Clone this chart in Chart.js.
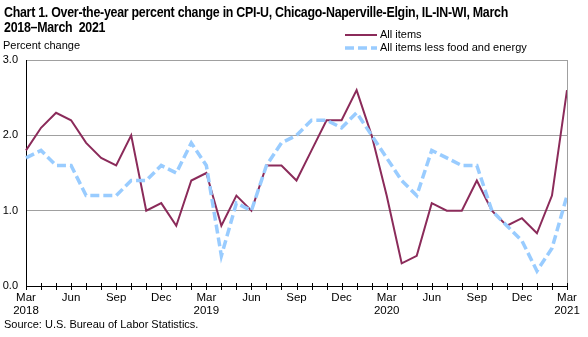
<!DOCTYPE html>
<html>
<head>
<meta charset="utf-8">
<script src="https://cdn.jsdelivr.net/npm/chart.js@4"></script>
<style>
  body { margin: 0; background: #fff; }
  #wrap { position: relative; width: 588px; height: 337px; font-family: 'Liberation Sans', Arial, sans-serif; color: #000; }
  #wrap canvas { position: absolute; left: 0; top: 0; }
  .title { position: absolute; left: 4px; top: 5px; font-size: 14px; font-weight: bold; line-height: 15px; white-space: nowrap; letter-spacing: -0.3px; transform-origin: 0 0; }
  .ylabel { position: absolute; left: 3px; top: 39px; font-size: 11px; }
  .source { position: absolute; left: 4px; top: 318px; font-size: 11px; }
</style>
</head>
<body>
<div id="wrap">
  <canvas id="cpiChart" width="588" height="337"></canvas>
  <div class="title" id="title">Chart 1. Over-the-year percent change in CPI-U, Chicago-Naperville-Elgin, IL-IN-WI, March<br>2018–March&nbsp; 2021</div>
  <div class="ylabel">Percent change</div>
  <div class="source">Source: U.S. Bureau of Labor Statistics.</div>
</div>
<script>
// Monthly months, Mar 2018 through Mar 2021
const months = ['Mar', 'Apr', 'May', 'Jun', 'Jul', 'Aug', 'Sep', 'Oct', 'Nov', 'Dec', 'Jan', 'Feb'];
const startYear = 2018;
const monthCount = 37;

// Over-the-year percent change
const allItems = [1.8, 2.1, 2.3, 2.2, 1.9, 1.7, 1.6, 2.0, 1.0, 1.1, 0.8, 1.4,
                  1.5, 0.8, 1.2, 1.0, 1.6, 1.6, 1.4, 1.8, 2.2, 2.2, 2.6, 2.0,
                  1.2, 0.3, 0.4, 1.1, 1.0, 1.0, 1.4, 1.0, 0.8, 0.9, 0.7, 1.2,
                  2.6];
const coreItems = [1.7, 1.8, 1.6, 1.6, 1.2, 1.2, 1.2, 1.4, 1.4, 1.6, 1.5, 1.9,
                   1.6, 0.4, 1.1, 1.0, 1.6, 1.9, 2.0, 2.2, 2.2, 2.1, 2.3, 2.0,
                   1.7, 1.4, 1.2, 1.8, 1.7, 1.6, 1.6, 1.0, 0.8, 0.6, 0.2, 0.5,
                   1.2];
const yTicks = [0, 1, 2, 3];

const seriesNames = ['All items', 'All items less food and energy'];
const maroon = '#8b2b5a';
const skyBlue = '#99ccff';
const fontFamily = "'Liberation Sans', Arial, sans-serif";

// keep the first title line inside 504px
const titleEl = document.getElementById('title');
const titleWidth = titleEl.getBoundingClientRect().width;
if (titleWidth > 504) titleEl.style.transform = 'scaleX(' + (504 / titleWidth) + ')';

const labels = [];
for (let i = 0; i < monthCount; i++) {
    const m = months[i % 12];
    const year = startYear + Math.floor(i / 12);
    if (i % 3 !== 0) labels.push('');
    else if (m === 'Mar') labels.push([m, String(year)]);
    else labels.push(m);
}

// Tick marks crossing the x axis, right frame line and the legend
const decorPlugin = {
    id: 'decor',
    afterDraw(chart) {
        const ctx = chart.ctx;
        const area = chart.chartArea;
        const x = chart.scales.x;
        ctx.save();
        ctx.strokeStyle = '#a0a0a0';
        ctx.lineWidth = 1;
        ctx.beginPath();
        ctx.moveTo(Math.round(area.right) + 0.5, area.top);
        ctx.lineTo(Math.round(area.right) + 0.5, area.bottom);
        ctx.stroke();

        ctx.strokeStyle = '#000';
        ctx.beginPath();
        for (let i = 0; i < monthCount; i++) {
            const px = Math.round(x.getPixelForValue(i)) + 0.5;
            ctx.moveTo(px, area.bottom - 3);
            ctx.lineTo(px, area.bottom + 4);
        }
        ctx.stroke();

        // legend
        const entries = [
            { text: seriesNames[0], color: maroon, width: 2, dash: [], y: 35 },
            { text: seriesNames[1], color: skyBlue, width: 3.5, dash: [9, 4], y: 48 }
        ];
        ctx.font = '11px ' + fontFamily;
        ctx.textBaseline = 'middle';
        entries.forEach(e => {
            ctx.strokeStyle = e.color;
            ctx.lineWidth = e.width;
            ctx.setLineDash(e.dash);
            ctx.beginPath();
            ctx.moveTo(345, e.y);
            ctx.lineTo(377, e.y);
            ctx.stroke();
            ctx.setLineDash([]);
            ctx.fillStyle = '#000';
            ctx.fillText(e.text, 380, e.y);
        });
        ctx.restore();
    }
};

new Chart(document.getElementById('cpiChart').getContext('2d'), {
    type: 'line',
    data: {
        labels: labels,
        datasets: [{
            label: seriesNames[0],
            data: allItems,
            borderColor: maroon,
            borderWidth: 2,
            pointRadius: 0,
            tension: 0,
            order: 1
        }, {
            label: seriesNames[1],
            data: coreItems,
            borderColor: skyBlue,
            borderWidth: 3.5,
            borderDash: [9, 4],
            pointRadius: 0,
            tension: 0,
            order: 0
        }]
    },
    options: {
        responsive: false,
        animation: false,
        layout: { padding: { top: 60, right: 21, left: 0, bottom: 0 } },
        plugins: {
            legend: { display: false },
            tooltip: { enabled: false }
        },
        scales: {
            x: {
                grid: { display: true, drawOnChartArea: false, drawTicks: false },
                border: { color: '#000', width: 1 },
                afterFit: scale => { scale.height = 51; },
                ticks: {
                    autoSkip: false,
                    maxRotation: 0,
                    padding: 6,
                    color: '#000',
                    font: { family: fontFamily, size: 11.5, lineHeight: 1.1 }
                }
            },
            y: {
                min: 0,
                max: 3,
                afterFit: scale => { scale.width = 26; },
                afterBuildTicks: scale => { scale.ticks = yTicks.map(v => ({ value: v })); },
                grid: { color: '#a0a0a0', drawTicks: false },
                border: { color: '#000', width: 1 },
                ticks: {
                    padding: 8,
                    color: '#000',
                    font: { family: fontFamily, size: 11 },
                    callback: v => v.toFixed(1)
                }
            }
        }
    },
    plugins: [decorPlugin]
});
</script>
</body>
</html>
